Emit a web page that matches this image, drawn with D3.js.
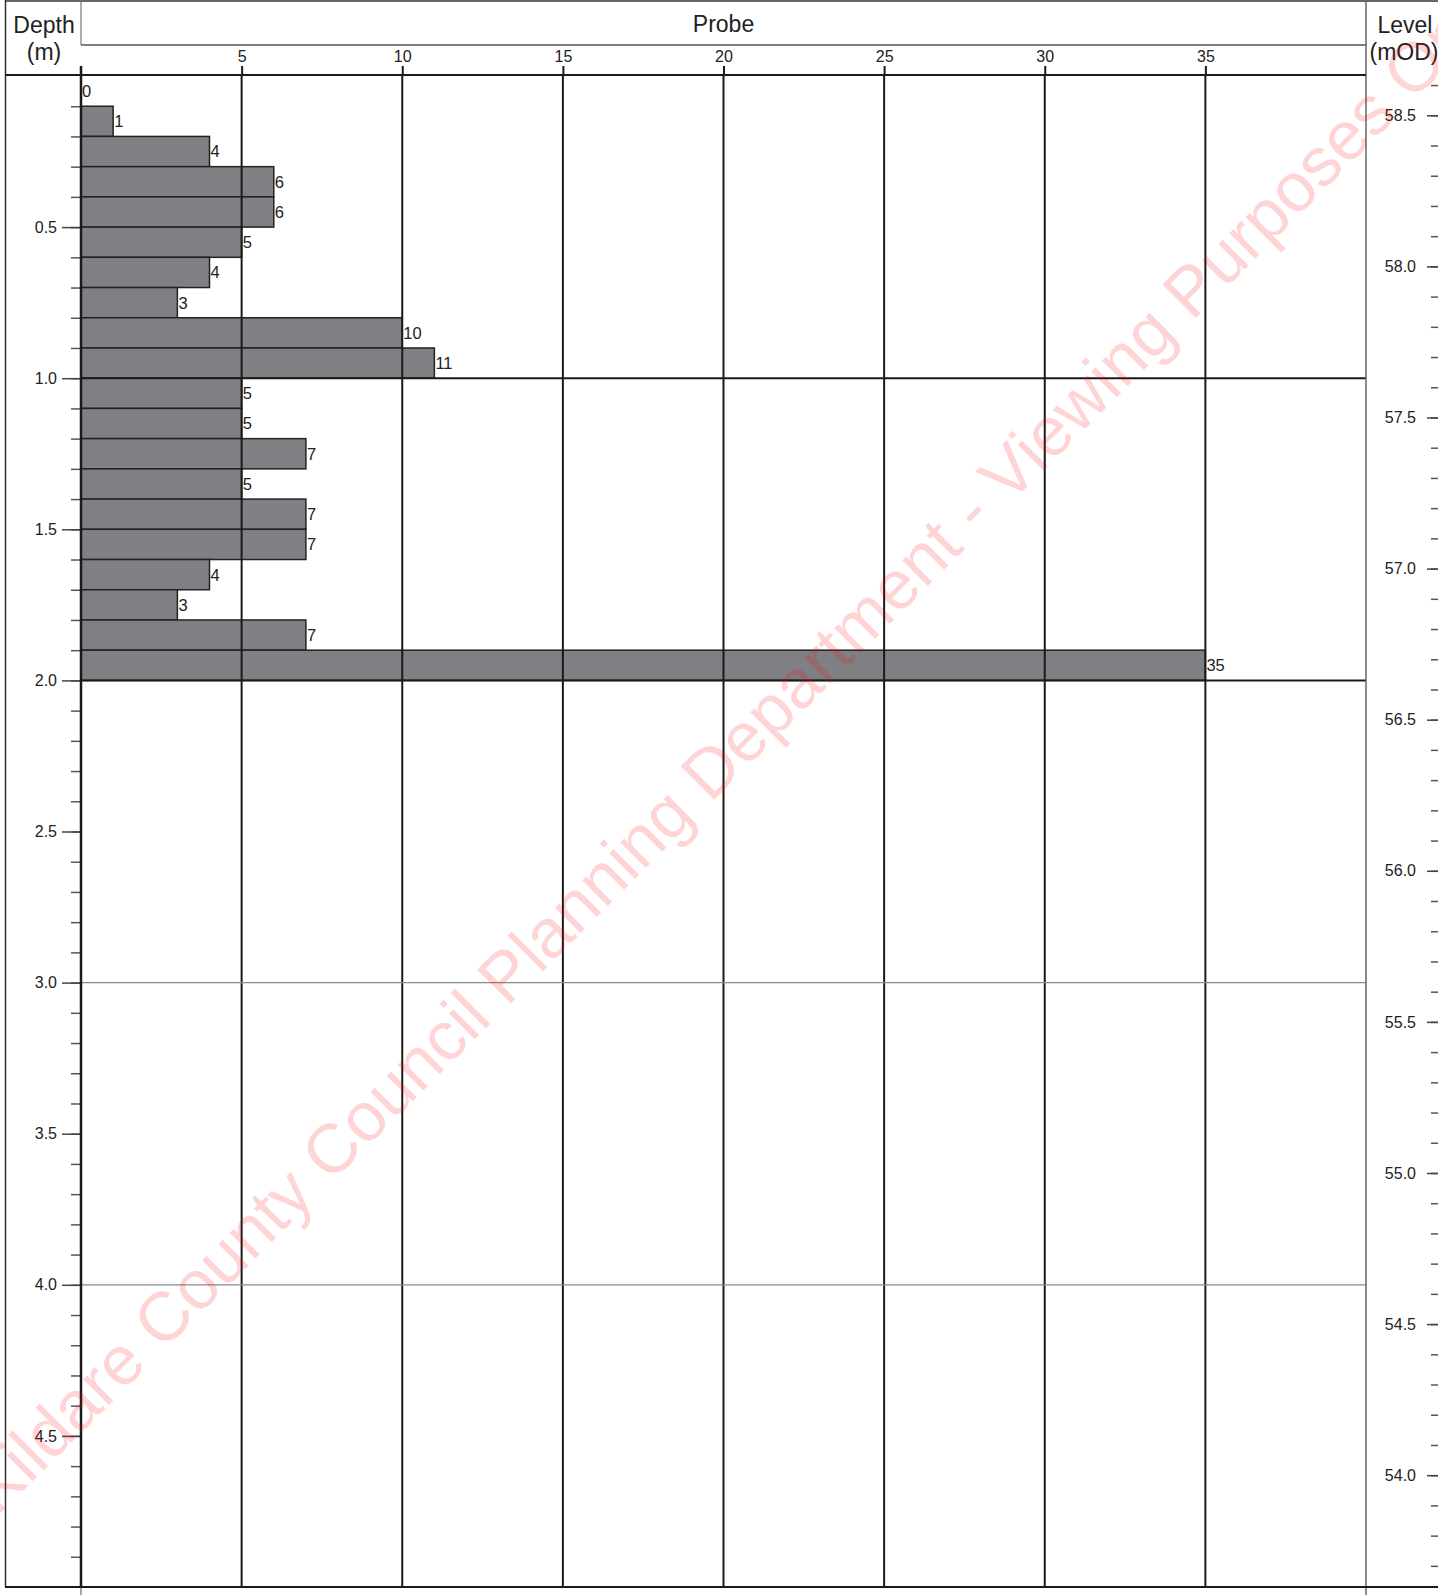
<!DOCTYPE html>
<html>
<head>
<meta charset="utf-8">
<script src="https://cdn.jsdelivr.net/npm/d3@7"></script>
<style>
  body { margin: 0; background: #fff; }
  svg { display: block; font-family: "Liberation Sans", Arial, Helvetica, sans-serif; }
</style>
</head>
<body>
<svg id="probe-log"></svg>
<script>
// Probe log: blow counts per 0.1 m, depth below ground, level in mOD

const depthFrom = [0.0, 0.1, 0.2, 0.3, 0.4, 0.5, 0.6, 0.7, 0.8, 0.9,
                   1.0, 1.1, 1.2, 1.3, 1.4, 1.5, 1.6, 1.7, 1.8, 1.9];
const blows = [0, 1, 4, 6, 6, 5, 4, 3, 10, 11,
               5, 5, 7, 5, 7, 7, 4, 3, 7, 35];
const groundLevel = 58.63;

const probeTicks = [5, 10, 15, 20, 25, 30, 35];
const depthLabels = [0.5, 1.0, 1.5, 2.0, 2.5, 3.0, 3.5, 4.0, 4.5];
const levelLabels = [58.5, 58.0, 57.5, 57.0, 56.5, 56.0, 55.5, 55.0, 54.5, 54.0];
const darkRules = [1.0, 2.0];
const greyRules = [3.0, 4.0];

const watermark = "Kildare County Council Planning Department - Viewing Purposes Only";

const W = 1438, H = 1595;
const plotLeft = 81, plotRight = 1366, plotTop = 76, plotBottom = 1587;

const svg = d3.select("#probe-log")
  .attr("width", W)
  .attr("height", H)
  .attr("viewBox", `0 0 ${W} ${H}`);

const x = d3.scaleLinear().domain([0, 40]).range([plotLeft, plotRight]);
const y = d3.scaleLinear().domain([0, 5]).range([plotTop, plotBottom]);
const yLevel = d3.scaleLinear().domain([groundLevel, groundLevel - 5]).range([plotTop, plotBottom]);

// bars
const data = depthFrom.map((d, i) => ({ from: d, to: d + 0.1, value: blows[i] }));

svg.append("g")
  .selectAll("rect")
  .data(data.filter(d => d.value > 0))
  .join("rect")
    .attr("x", x(0))
    .attr("y", d => y(d.from))
    .attr("width", d => x(d.value) - x(0))
    .attr("height", d => y(d.to) - y(d.from))
    .attr("fill", "#808084")
    .attr("stroke", "#222")
    .attr("stroke-width", 1.5);

svg.append("g")
  .selectAll("text")
  .data(data)
  .join("text")
    .attr("x", d => x(d.value) + 1)
    .attr("y", d => (y(d.from) + y(d.to)) / 2)
    .attr("dy", "0.36em")
    .attr("font-size", 16.5)
    .attr("fill", "#222")
    .text(d => d.value);

// vertical grid
svg.append("g")
  .selectAll("line")
  .data(probeTicks)
  .join("line")
    .attr("x1", d => x(d)).attr("x2", d => x(d))
    .attr("y1", plotTop).attr("y2", plotBottom)
    .attr("stroke", "#1a1a1a")
    .attr("stroke-width", 2);

// horizontal rules
svg.append("g")
  .selectAll("line")
  .data(darkRules)
  .join("line")
    .attr("x1", plotLeft).attr("x2", plotRight)
    .attr("y1", d => y(d)).attr("y2", d => y(d))
    .attr("stroke", "#1a1a1a")
    .attr("stroke-width", 2);

svg.append("g")
  .selectAll("line")
  .data(greyRules)
  .join("line")
    .attr("x1", plotLeft).attr("x2", plotRight)
    .attr("y1", d => y(d)).attr("y2", d => y(d))
    .attr("stroke", "#8a8a8a")
    .attr("stroke-width", 1.2);

// probe axis (top)
const xAxis = svg.append("g")
  .attr("transform", `translate(0,${plotTop - 1})`)
  .call(d3.axisTop(x).tickValues(probeTicks).tickSize(9).tickPadding(4));
xAxis.select(".domain").remove();
xAxis.selectAll("line").attr("stroke", "#1a1a1a").attr("stroke-width", 2);
xAxis.selectAll("text")
  .attr("font-size", 16)
  .attr("fill", "#222")
  .attr("font-family", "Liberation Sans, Arial, sans-serif");

// depth axis (left)
const depthMinor = d3.range(1, 50).map(v => v / 10);
const yMinor = svg.append("g")
  .attr("transform", `translate(${plotLeft},0)`)
  .call(d3.axisLeft(y).tickValues(depthMinor).tickSize(10).tickFormat(""));
yMinor.select(".domain").remove();
yMinor.selectAll("line").attr("stroke", "#555").attr("stroke-width", 1.5);

const yMajor = svg.append("g")
  .attr("transform", `translate(${plotLeft},0)`)
  .call(d3.axisLeft(y).tickValues(depthLabels).tickSize(19).tickPadding(5).tickFormat(d3.format(".1f")));
yMajor.select(".domain").remove();
yMajor.selectAll("line").attr("stroke", "#444").attr("stroke-width", 1.5);
yMajor.selectAll("text")
  .attr("font-size", 16)
  .attr("fill", "#222")
  .attr("font-family", "Liberation Sans, Arial, sans-serif");

// level axis (right)
const levelMinor = d3.range(537, 587).map(v => v / 10);
const lMinor = svg.append("g")
  .attr("transform", `translate(${W},0)`)
  .call(d3.axisLeft(yLevel).tickValues(levelMinor).tickSize(7).tickFormat(""));
lMinor.select(".domain").remove();
lMinor.selectAll("line").attr("stroke", "#555").attr("stroke-width", 1.5);

const lMajor = svg.append("g")
  .attr("transform", `translate(${W},0)`)
  .call(d3.axisLeft(yLevel).tickValues(levelLabels).tickSize(11).tickPadding(11).tickFormat(d3.format(".1f")));
lMajor.select(".domain").remove();
lMajor.selectAll("line").attr("stroke", "#444").attr("stroke-width", 1.5);
lMajor.selectAll("text")
  .attr("font-size", 16)
  .attr("fill", "#222")
  .attr("font-family", "Liberation Sans, Arial, sans-serif");

// frame lines
const frame = svg.append("g").attr("fill", "none");
frame.append("line").attr("x1", 5).attr("x2", W).attr("y1", 1).attr("y2", 1)
  .attr("stroke", "#333").attr("stroke-width", 1.5);
frame.append("line").attr("x1", 5.5).attr("x2", 5.5).attr("y1", 0).attr("y2", plotBottom)
  .attr("stroke", "#333").attr("stroke-width", 1.5);
frame.append("line").attr("x1", plotLeft).attr("x2", plotLeft).attr("y1", 0).attr("y2", 45)
  .attr("stroke", "#777").attr("stroke-width", 1.2);
frame.append("line").attr("x1", plotLeft).attr("x2", plotRight).attr("y1", 45).attr("y2", 45)
  .attr("stroke", "#555").attr("stroke-width", 1.5);
frame.append("line").attr("x1", plotRight).attr("x2", plotRight).attr("y1", 0).attr("y2", H)
  .attr("stroke", "#666").attr("stroke-width", 1.5);
frame.append("line").attr("x1", 5).attr("x2", plotRight).attr("y1", plotTop - 1).attr("y2", plotTop - 1)
  .attr("stroke", "#1a1a1a").attr("stroke-width", 2);
frame.append("line").attr("x1", plotLeft).attr("x2", plotLeft).attr("y1", 66).attr("y2", plotBottom)
  .attr("stroke", "#1a1a1a").attr("stroke-width", 2.5);
frame.append("line").attr("x1", plotLeft).attr("x2", plotLeft).attr("y1", plotBottom).attr("y2", H)
  .attr("stroke", "#888").attr("stroke-width", 1.5);
frame.append("line").attr("x1", 5).attr("x2", W).attr("y1", plotBottom).attr("y2", plotBottom)
  .attr("stroke", "#1a1a1a").attr("stroke-width", 2);

// header texts
const hdr = svg.append("g").attr("fill", "#222").attr("font-size", 23).attr("text-anchor", "middle");
hdr.append("text").attr("x", 44).attr("y", 33).text("Depth");
hdr.append("text").attr("x", 44).attr("y", 60).text("(m)");
hdr.append("text").attr("x", (plotLeft + plotRight) / 2).attr("y", 32).text("Probe");
hdr.append("text").attr("x", 1405).attr("y", 33).text("Level");
hdr.append("text").attr("x", 1404).attr("y", 60).text("(mOD)");

// watermark
svg.append("text")
  .attr("transform", "translate(-3,1517) rotate(-45)")
  .attr("font-size", 69)
  .attr("fill", "rgba(255,0,0,0.17)")
  .text(watermark);
</script>
</body>
</html>
